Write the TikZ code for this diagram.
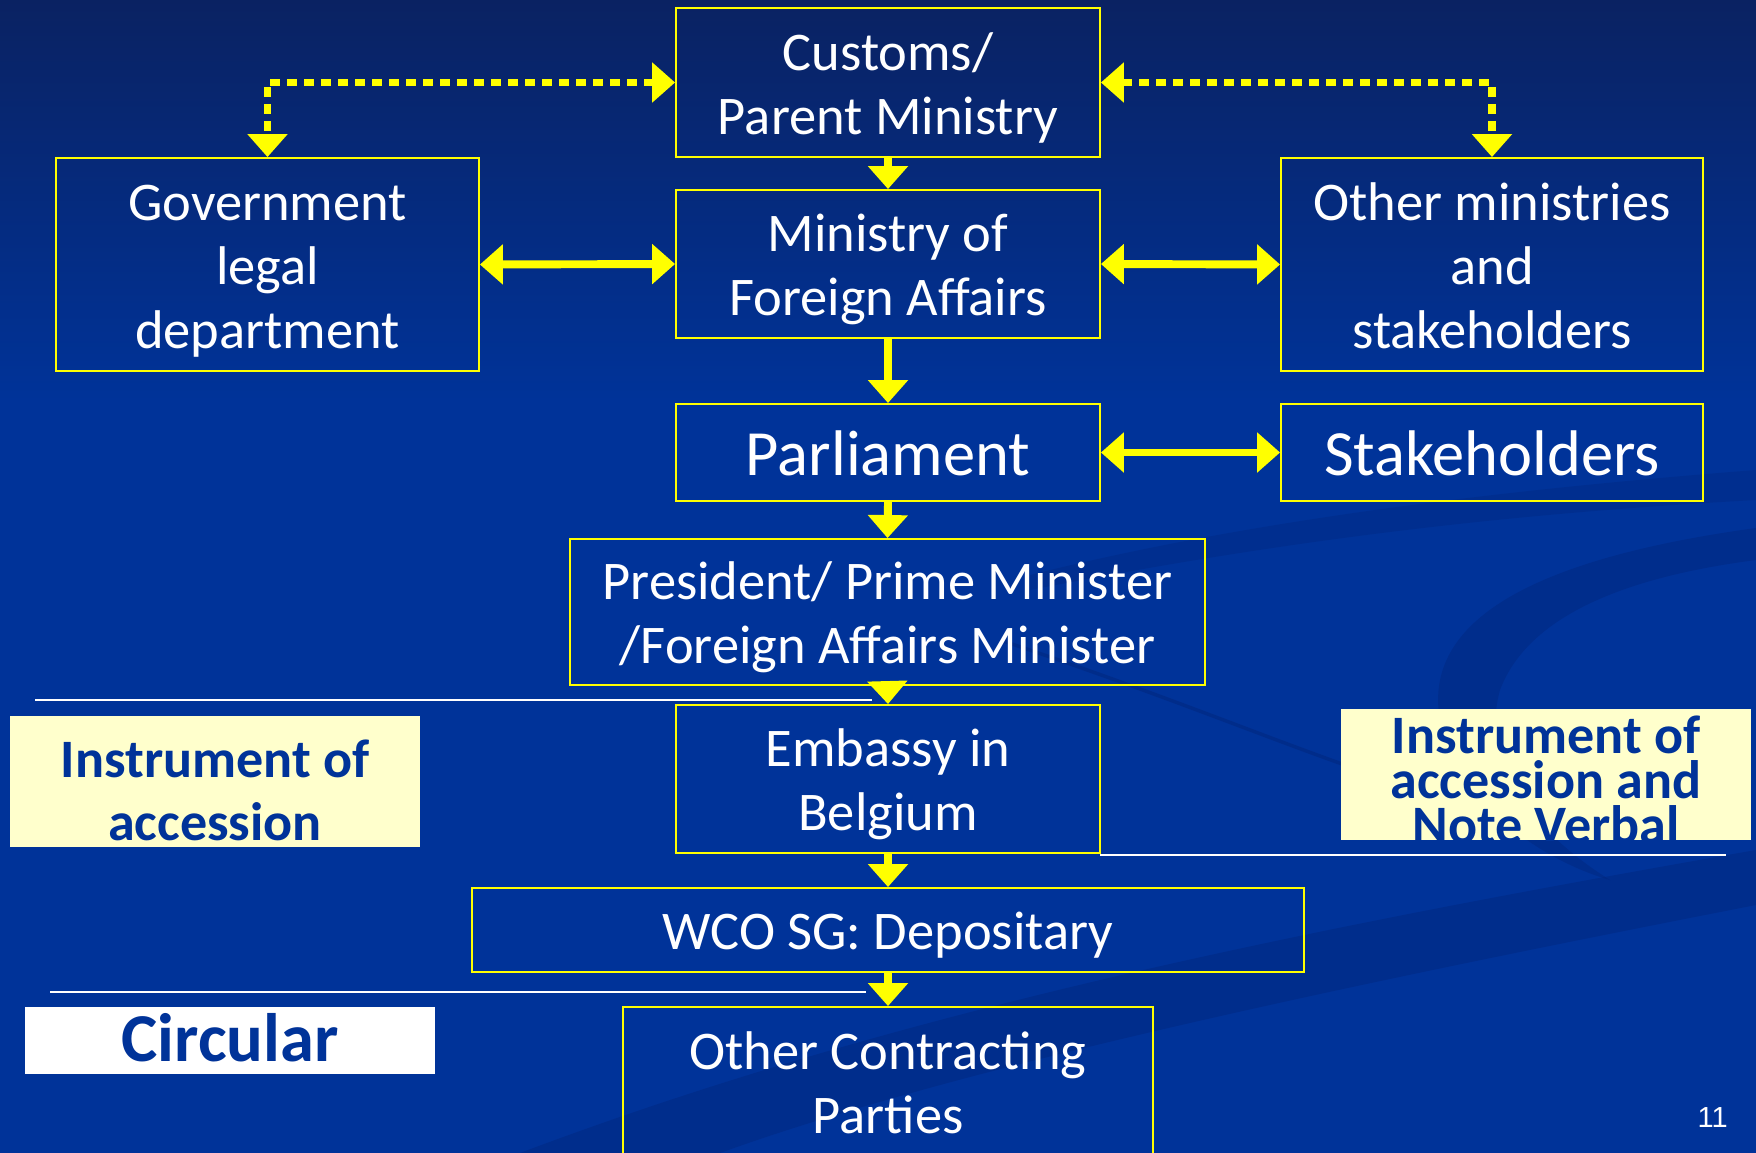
\documentclass[tikz,border=0pt]{standalone}
\usepackage{fontspec}
\setmainfont{Carlito}
\newfontfamily\pagenumfont{Liberation Sans}
\usetikzlibrary{arrows.meta}

\definecolor{slideblue}{RGB}{0,51,153}
\definecolor{slidetop}{RGB}{10,34,98}
\definecolor{swoosh}{RGB}{0,38,125}
\definecolor{boxyellow}{RGB}{255,255,0}
\definecolor{notefill}{RGB}{255,255,204}

% struts that set where the first baseline and the last depth sit
\newcommand{\tallstrut}[1][1em]{\rule{0pt}{#1}}

\tikzset{
  lowfoot/.style={execute at end node={\rule[-0.28em]{0pt}{0.28em}}},
  stage/.style={shape=rectangle, draw=boxyellow, line width=1.1pt, text=white, align=center,
                inner sep=0pt, font=\fontsize{31}{36.4}\selectfont, lowfoot},
  note/.style={shape=rectangle, fill=notefill, text=slideblue, align=center, inner sep=0pt,
               inner ysep=-0.5cm, font=\bfseries\fontsize{30.8}{35.8}\selectfont, lowfoot},
  flow/.style={draw=boxyellow, line width=4.5pt, -{Triangle[width=0.78cm,length=0.46cm]}},
  twoway/.style={flow, {Triangle[width=0.78cm,length=0.46cm]}-{Triangle[width=0.78cm,length=0.46cm]}},
  dotflow/.style={twoway, line width=4pt, dash pattern=on 0.2cm off 0.14cm},
  rule/.style={draw=white, line width=1.1pt}
}

\begin{document}
\begin{tikzpicture}[x=0.02cm, y=-0.02cm]
  \useasboundingbox (0,0) rectangle (1756,1153);
  % slide background
  \fill[slideblue] (0,400) rectangle (1756,1153);
  \shade[top color=slidetop, bottom color=slideblue] (0,0) rectangle (1756,401);
  \fill[swoosh, opacity=0.45] (1756,528) .. controls (1560,555) and (1420,610) .. (1440,720)
        .. controls (1455,800) and (1540,860) .. (1610,880)
        .. controls (1530,830) and (1480,760) .. (1500,690)
        .. controls (1530,610) and (1640,575) .. (1756,560) -- cycle;
  \fill[swoosh, opacity=0.35] (1030,575) .. controls (1250,520) and (1500,490) .. (1756,470)
        -- (1756,500) .. controls (1480,515) and (1260,545) .. (1030,590) -- cycle;
  \fill[swoosh, opacity=0.45] (520,1153) .. controls (900,1010) and (1300,930) .. (1756,850)
        -- (1756,905) .. controls (1320,990) and (950,1070) .. (720,1153) -- cycle;
  \draw[swoosh, opacity=0.5, line width=2pt] (1000,640) .. controls (1150,690) and (1260,735) .. (1345,765);

  % boxes
  \path (888,82.5) node [stage, minimum width=8.48cm, minimum height=2.98cm] (cust) {\tallstrut Customs/\\Parent Ministry}
        (888,264) node [stage, minimum width=8.48cm, minimum height=2.96cm] (mofa) {\tallstrut Ministry of\\Foreign Affairs}
        (267.5,264.5) node [stage, minimum width=8.46cm, minimum height=4.26cm] (gov) {\tallstrut Government\\legal\\department}
        (1492,264.5) node [stage, minimum width=8.44cm, minimum height=4.26cm] (othm) {\tallstrut Other ministries\\and\\stakeholders}
        (888,452.5) node [stage, minimum width=8.48cm, minimum height=1.94cm, font=\fontsize{36.7}{44}\selectfont] (parl) {\tallstrut Parliament}
        (1492,452.5) node [stage, minimum width=8.44cm, minimum height=1.94cm, font=\fontsize{36.7}{44}\selectfont] (stak) {\tallstrut Stakeholders}
        (887.5,612) node [stage, minimum width=12.7cm, minimum height=2.92cm] (pres) {\tallstrut President/ Prime Minister\\/Foreign Affairs Minister}
        (888,779) node [stage, minimum width=8.48cm, minimum height=2.96cm] (emb) {\tallstrut Embassy in\\Belgium}
        (888,930) node [stage, minimum width=16.64cm, minimum height=1.68cm] (wco) {\tallstrut WCO SG: Depositary}
        (888,1082) node [stage, minimum width=10.6cm, minimum height=3.0cm] (ocp) {\tallstrut Other Contracting\\Parties};

  % arrows
  \draw[dotflow] (cust.west) -| (gov.north);
  \draw[dotflow] (cust.east) -| (othm.north);
  \draw[twoway] (gov.east) -- (mofa.west);
  \draw[twoway] (mofa.east) -- (othm.west);
  \draw[twoway] (parl.east) -- (stak.west);
  \draw[flow] (cust.south) -- (mofa.north);
  \draw[flow] (mofa.south) -- (parl.north);
  \draw[flow] (parl.south) -- (pres.north);
  \draw[flow] (pres.south) -- (emb.north);
  \draw[flow] (emb.south) -- (wco.north);
  \draw[flow] (wco.south) -- (ocp.north);

  % separators
  \draw[rule] (35,700) -- (872,700);
  \draw[rule] (1100,855) -- (1726,855);
  \draw[rule] (50,992) -- (866,992);

  % document labels
  \path (215,781.5) node [note, minimum width=8.2cm, minimum height=2.62cm] (accnote) {\tallstrut[1.28em]Instrument of\\accession}
        (230,1040.5) node [note, fill=white, minimum width=8.2cm, minimum height=1.34cm,
                           font=\bfseries\fontsize{39}{46}\selectfont] (circ) {\tallstrut[0.88em]Circular};
  \begin{scope}
    \clip (1341,709) rectangle (1751,840);
    \path (1546,774.5) node [note, minimum width=8.2cm, minimum height=2.62cm,
                             font=\bfseries\fontsize{30.8}{25.6}\selectfont] (nvnote) {\tallstrut[1.15em]Instrument of\\accession and\\Note Verbal};
  \end{scope}

  \path (1728,1127) node [anchor=base east, text=white, inner sep=0pt,
                          font=\pagenumfont\fontsize{16.5}{19}\selectfont] (pagenum) {11};
\end{tikzpicture}
\end{document}
